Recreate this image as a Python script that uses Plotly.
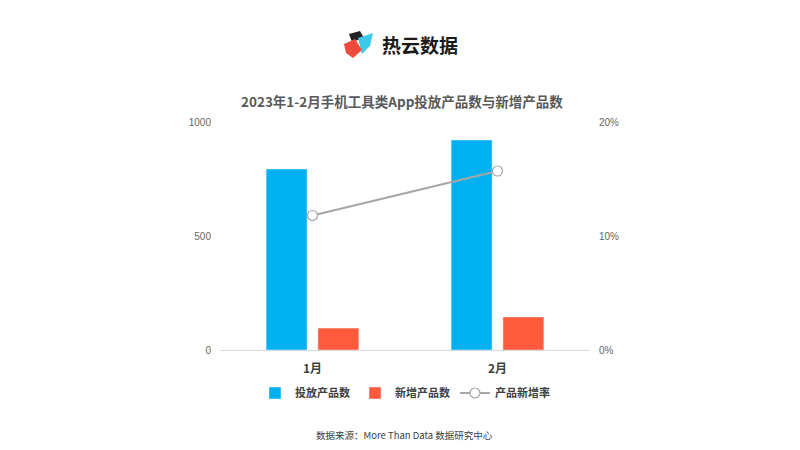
import plotly.graph_objects as go

months = ["1月", "2月"]
launched = [794, 921]
new_added = [96, 145]
growth_rate = [0.118, 0.157]

FONT = "Noto Sans CJK SC"

# the page body adds 8px around the figure, so the window coords are shifted
OFF = 8
W, H = 800, 450
# plot area in window pixels: x 220..590, y 122..350
L, R, T, B = 220 - OFF, W - (590 - OFF), 122 - OFF, H - (350 - OFF)


def px(x, y):
    """window pixel -> paper coords"""
    x, y = x - OFF, y - OFF
    return (x - L) / (W - L - R), (H - B - y) / (H - T - B)


def path(points):
    pts = [px(x, y) for x, y in points]
    return "M " + " L ".join(f"{a:.4f},{b:.4f}" for a, b in pts) + " Z"


fig = go.Figure()

fig.add_trace(go.Bar(
    x=months, y=launched, name="<b>投放产品数</b>",
    marker=dict(color="#00b0f0"),
))
fig.add_trace(go.Bar(
    x=months, y=new_added, name="<b>新增产品数</b>",
    marker=dict(color="#ff5a3c"),
))
fig.add_trace(go.Scatter(
    x=months, y=growth_rate, name="<b>产品新增率</b>", yaxis="y2",
    mode="lines+markers",
    line=dict(color="#a6a6a6", width=2),
    marker=dict(size=10, color="white", line=dict(color="#a6a6a6", width=1.2)),
))

# logo
shapes = [
    dict(type="path", xref="paper", yref="paper", layer="above",
         path=path([(349, 34), (360, 31), (364, 38), (352, 42)]),
         fillcolor="#222222", line=dict(width=0)),
    dict(type="path", xref="paper", yref="paper", layer="above",
         path=path([(358, 38), (373, 33), (370, 46), (362, 54)]),
         fillcolor="#3cc8e6", line=dict(width=0)),
    dict(type="path", xref="paper", yref="paper", layer="above",
         path=path([(344, 44), (355, 39), (362, 50), (353, 58), (346, 53)]),
         fillcolor="#f04a3a", line=dict(width=0)),
]

lx, ly = px(380, 45)
sx, sy = px(404, 435)
tx, ty = px(402, 101)

fig.update_layout(
    width=W, height=H,
    margin=dict(l=L, r=R, t=T, b=B),
    paper_bgcolor="white",
    plot_bgcolor="white",
    font=dict(family=FONT, color="#595959"),
    barmode="group",
    bargap=0.44,
    bargroupgap=0.21,
    xaxis=dict(
        showgrid=False, showline=True, linecolor="#d9d9d9", linewidth=1,
        ticks="", tickfont=dict(size=12, color="#404040", family=FONT),
        tickprefix="<b>", ticksuffix="</b>", ticklabelstandoff=8,
    ),
    yaxis=dict(
        range=[0, 1000], tickvals=[0, 500, 1000], showgrid=False,
        zeroline=False, tickfont=dict(size=10, color="#666666", family="Liberation Sans"),
        ticklabelstandoff=8,
    ),
    yaxis2=dict(
        overlaying="y", side="right", range=[0, 0.2],
        tickvals=[0, 0.1, 0.2], tickformat=".0%", showgrid=False,
        zeroline=False, tickfont=dict(size=10, color="#666666", family="Liberation Sans"),
        ticklabelstandoff=8,
    ),
    legend=dict(
        orientation="h", x=px(405, 0)[0], xanchor="center", y=px(0, 393)[1], yanchor="middle",
        font=dict(size=11, color="#404040", family=FONT),
        itemwidth=30, traceorder="normal",
    ),
    shapes=shapes,
    annotations=[
        dict(text="<b>2023年1-2月手机工具类App投放产品数与新增产品数</b>",
             xref="paper", yref="paper", x=tx, y=ty,
             xanchor="center", yanchor="middle", showarrow=False,
             font=dict(size=13.5, color="#595959", family=FONT)),
        dict(text="<b>热云数据</b>", xref="paper", yref="paper", x=lx, y=ly,
             xanchor="left", yanchor="middle", showarrow=False,
             font=dict(size=19, color="#1a1a1a", family=FONT)),
        dict(text="数据来源：More Than Data 数据研究中心", xref="paper", yref="paper",
             x=sx, y=sy, xanchor="center", yanchor="middle", showarrow=False,
             font=dict(size=9.5, color="#404040", family=FONT)),
    ],
)

fig.write_html("out.html")
